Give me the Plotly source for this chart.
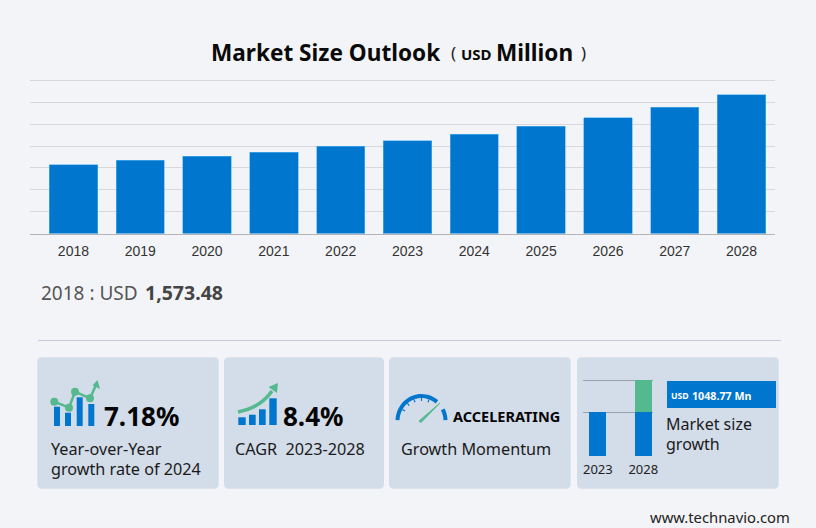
#!/usr/bin/python3
import numpy as np
import plotly.graph_objects as go

WIDTH, HEIGHT = 816, 528

years = ['2018', '2019', '2020', '2021', '2022', '2023',
         '2024', '2025', '2026', '2027', '2028']
market_size = [1573.48, 1673, 1765, 1864, 1994, 2122,
               2275, 2451, 2648, 2893, 3174]
grid_values = [0, 500, 1000, 1500, 2000, 2500, 3000, 3500]

# the little chart in the last card is not to scale, so these are its own units
growth_years = ['2023', '2028']
growth_base = [44, 44]
growth_added = [0, 32]

BACKGROUND = '#f3f4f7'
CARD = '#d3dce9'
BLUE = '#0076ce'
GREEN = '#55b98f'
TEXT_FONT = 'Noto Sans'


def px(x):
    return x/WIDTH


def py(y):
    return 1 - y/HEIGHT


def main():
    fig = go.Figure()
    fig.add_trace(go.Bar(
        x=years, y=market_size, xaxis='x', yaxis='y', showlegend=False,
        marker={'color': BLUE, 'line': {'color': '#58b4ee', 'width': 0.6}}))
    fig.add_trace(go.Bar(
        x=growth_years, y=growth_base, xaxis='x2', yaxis='y2', width=0.375,
        showlegend=False, marker={'color': BLUE, 'line': {'width': 0}}))
    fig.add_trace(go.Bar(
        x=growth_years, y=growth_added, xaxis='x2', yaxis='y2', width=0.375,
        showlegend=False, marker={'color': GREEN, 'line': {'width': 0}}))

    # the axes run a touch past the top value, plotly drops a grid line
    # sitting right on the edge of the plot
    fig.update_layout(
        width=WIDTH, height=HEIGHT, autosize=False,
        margin=dict(l=0, r=0, t=0, b=0, autoexpand=False),
        paper_bgcolor=BACKGROUND, plot_bgcolor='rgba(0,0,0,0)',
        barmode='stack', bargap=0.277, showlegend=False,
        xaxis=dict(domain=[px(30), px(775)], range=[-0.65, 10.5],
                   type='category', showgrid=False, ticks='outside',
                   ticklen=5, tickcolor='rgba(0,0,0,0)', showline=True,
                   linecolor='#b4b4b8', linewidth=1, zeroline=False,
                   tickfont=dict(family='Liberation Sans', size=14,
                                 color='#333333')),
        yaxis=dict(domain=[py(233.5), py(79.5)], range=[0, 3523],
                   tickvals=grid_values, showticklabels=False,
                   gridcolor='#d8d8dc', gridwidth=1, zeroline=False),
        xaxis2=dict(domain=[px(583.3), px(653.3)], range=[-0.32, 1.22],
                    type='category', anchor='y2', showgrid=False,
                    ticks='outside', ticklen=1, tickcolor='rgba(0,0,0,0)',
                    showline=False, zeroline=False,
                    tickfont=dict(family=TEXT_FONT, size=13,
                                  color='#222222')),
        yaxis2=dict(domain=[py(456.3), py(376)], range=[0, 80], anchor='x2',
                    tickvals=[44, 76], showticklabels=False,
                    gridcolor='#98a2ae', gridwidth=1, zeroline=False),
    )

    addCards(fig)
    addIcons(fig)
    addTexts(fig)
    fig.write_html(
        'out.html',
        config={'displayModeBar': False, 'responsive': False},
        post_script="document.body.style.margin='0';"
                    "document.body.style.overflow='hidden';")


def roundedRect(x0, y0, x1, y1, r=5):
    X0, X1, Y0, Y1 = px(x0), px(x1), py(y0), py(y1)
    rx, ry = r/WIDTH, r/HEIGHT
    return (f'M {X0+rx},{Y0} L {X1-rx},{Y0} Q {X1},{Y0} {X1},{Y0-ry} '
            f'L {X1},{Y1+ry} Q {X1},{Y1} {X1-rx},{Y1} '
            f'L {X0+rx},{Y1} Q {X0},{Y1} {X0},{Y1+ry} '
            f'L {X0},{Y0-ry} Q {X0},{Y0} {X0+rx},{Y0} Z')


def polyPath(points, close=False):
    path = 'M ' + ' L '.join(f'{px(x)},{py(y)}' for x, y in points)
    return path + (' Z' if close else '')


def addShape(fig, path, fill=None, line=None, width=0, layer='below'):
    fig.add_shape(
        type='path', path=path, xref='paper', yref='paper', layer=layer,
        fillcolor=fill if fill else 'rgba(0,0,0,0)',
        line={'color': line if line else 'rgba(0,0,0,0)', 'width': width})


def addBox(fig, x0, y0, x1, y1, fill, layer='above'):
    fig.add_shape(
        type='rect', xref='paper', yref='paper', layer=layer,
        x0=px(x0), x1=px(x1), y0=py(y0), y1=py(y1),
        fillcolor=fill, line={'width': 0})


def addCards(fig):
    fig.add_shape(type='line', xref='paper', yref='paper', layer='below',
                  x0=px(38), x1=px(781), y0=py(340.5), y1=py(340.5),
                  line={'color': '#c6c9da', 'width': 1})
    for x0, x1 in [(37.3, 218.7), (224, 384), (389, 570.7), (577, 778.7)]:
        addShape(fig, roundedRect(x0, 357.3, x1, 488.7), fill=CARD)
    addBox(fig, 667, 381, 776, 408, BLUE)


def addIcons(fig):
    # year-over-year card: bars with a zigzag arrow over them
    for x0, top in [(54, 406.7), (65, 412.7), (76.7, 397.3), (88.3, 404)]:
        addBox(fig, x0, top, x0+6, 426, BLUE)
    zigzag = [(54.3, 401.7), (69, 407.7), (75, 391.7), (90, 398.3), (96, 385)]
    addShape(fig, polyPath(zigzag), line=GREEN, width=2.5, layer='above')
    addShape(fig, polyPath([(97.5, 380), (100, 389), (92.5, 385.5)], True),
             fill=GREEN, layer='above')
    for x, y in zigzag[:4]:
        fig.add_shape(type='circle', xref='paper', yref='paper',
                      x0=px(x-4), x1=px(x+4), y0=py(y-4), y1=py(y+4),
                      fillcolor=GREEN, line={'width': 0})

    # CAGR card: rising bars and a curved arrow
    for x0, x1, top in [(238.3, 245.7, 417.3), (249, 255.7, 414.7),
                        (259, 265.7, 409.3), (269.3, 276.7, 398.3)]:
        addBox(fig, x0, top, x1, 425, BLUE)
    curve = (f'M {px(238)},{py(412)} Q {px(260)},{py(408)} '
             f'{px(272)},{py(391)}')
    addShape(fig, curve, line=GREEN, width=3.5, layer='above')
    addShape(fig, polyPath([(278, 383), (277, 393), (268.5, 387)], True),
             fill=GREEN, layer='above')

    # momentum card: gauge with a needle
    cx, cy, r = 421.5, 421, 24
    for start, stop in [(178, 50), (28, 2)]:
        angles = np.radians(np.linspace(start, stop, 30))
        arc = np.column_stack([cx + r*np.cos(angles),
                               cy - 1.04*r*np.sin(angles)])
        addShape(fig, polyPath(arc), line=BLUE, width=4, layer='above')
    for deg in [150, 130, 110, 90, 70]:
        a = np.radians(deg)
        tick = [(cx + 19*np.cos(a), cy - 20*np.sin(a)),
                (cx + 22*np.cos(a), cy - 23*np.sin(a))]
        addShape(fig, polyPath(tick), line=BLUE, width=1.2, layer='above')
    addShape(fig, polyPath([(419, 421), (421, 422.5), (440, 403)], True),
             fill=GREEN, line=GREEN, width=1, layer='above')


def addText(fig, x, y, text, size, color='#1a1a1a', bold=False,
            family=TEXT_FONT):
    fig.add_annotation(
        x=px(x), y=py(y), xref='paper', yref='paper', showarrow=False,
        xanchor='left', yanchor='middle', borderpad=0,
        text=f'<b>{text}</b>' if bold else text,
        font={'family': family, 'size': size, 'color': color})


def addTexts(fig):
    addText(fig, 210, 52.5, 'Market Size Outlook', 22.6, '#0a0a0a', True)
    addText(fig, 450, 53, '(', 17, '#222222')
    addText(fig, 460, 54, 'USD', 15, '#0a0a0a', True)
    addText(fig, 494.5, 52.5, 'Million', 22.6, '#0a0a0a', True)
    addText(fig, 580, 53, ')', 17, '#222222')

    addText(fig, 39.5, 293, '2018 : USD', 19, '#555555')
    addText(fig, 144, 292, '1,573.48', 19.5, '#444444', True)

    addText(fig, 103, 416, '7.18%', 26, '#050505', True)
    addText(fig, 49.5, 449, 'Year-over-Year', 16.2)
    addText(fig, 49.5, 469, 'growth rate of 2024', 16.2)

    addText(fig, 282, 416, '8.4%', 26, '#050505', True)
    addText(fig, 234, 449, 'CAGR  2023-2028', 16.2)

    addText(fig, 452, 416, 'ACCELERATING', 14.5, '#050505', True)
    addText(fig, 399.5, 449, 'Growth Momentum', 16.2)

    addText(fig, 669.5, 396, 'USD', 8.7, '#ffffff', True)
    addText(fig, 691, 396, '1048.77 Mn', 10.7, '#ffffff', True)
    addText(fig, 664.5, 424, 'Market size', 16)
    addText(fig, 664.5, 444, 'growth', 16)

    addText(fig, 649, 517, 'www.technavio.com', 14.8, '#222222')


if __name__ == '__main__':
    main()
